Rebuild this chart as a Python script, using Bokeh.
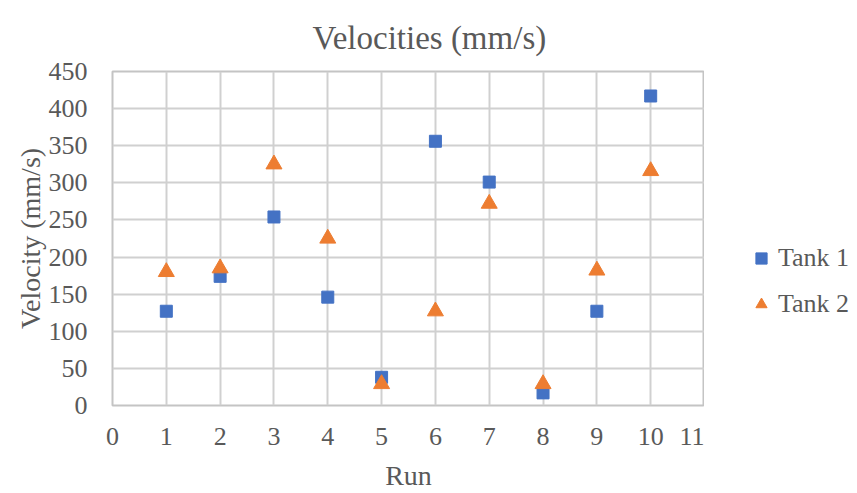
from bokeh.plotting import figure
from bokeh.layouts import row
from bokeh.models import FixedTicker, Legend, LegendItem, Range1d
from bokeh.embed import file_html
from bokeh.resources import INLINE

runs = [1, 2, 3, 4, 5, 6, 7, 8, 9, 10]
tank1 = [127, 174, 254, 146, 38, 356, 301, 17, 127, 417]
tank2 = [180, 185, 325, 225, 29, 127, 272, 29, 182, 316]
x_ticks = [0, 1, 2, 3, 4, 5, 6, 7, 8, 9, 10, 11]
y_ticks = [0, 50, 100, 150, 200, 250, 300, 350, 400, 450]
series_names = ["Tank 1", "Tank 2"]

FONT = "Liberation Serif"
GRAY = "#595959"
BLUE = "#4472C4"
ORANGE = "#ED7D31"

p = figure(width=704, height=493, output_backend="svg", toolbar_location=None,
           x_range=Range1d(0, 11), y_range=Range1d(0, 450),
           min_border_left=112, min_border_right=0,
           min_border_top=71, min_border_bottom=86)

p.title.text = "Velocities (mm/s)"
p.title.align = "left"
p.title.offset = 200
p.title.text_font = FONT
p.title.text_font_size = "33px"
p.title.text_font_style = "normal"
p.title.text_color = GRAY
p.title.standoff = 32

p.scatter(runs, tank1, marker="square", size=12, color=BLUE)
p.scatter(runs, tank2, marker="triangle", size=16, color=ORANGE)

xa = p.below[0]
ya = p.left[0]
for ax in (xa, ya):
    ax.axis_line_color = None
    ax.major_tick_line_color = None
    ax.minor_tick_line_color = None
    ax.major_label_text_font = FONT
    ax.major_label_text_font_size = "26px"
    ax.major_label_text_color = GRAY
    ax.axis_label_text_font = FONT
    ax.axis_label_text_font_size = "28px"
    ax.axis_label_text_font_style = "normal"
    ax.axis_label_text_color = GRAY

xa.ticker = FixedTicker(ticks=x_ticks)
ya.ticker = FixedTicker(ticks=y_ticks)
xa.axis_label = "Run"
ya.axis_label = "Velocity (mm/s)"
xa.major_label_standoff = 16
ya.major_label_standoff = 19
xa.axis_label_standoff = 12
ya.axis_label_standoff = 0

p.xgrid.ticker = FixedTicker(ticks=x_ticks)
p.ygrid.ticker = FixedTicker(ticks=y_ticks)
for g in (p.xgrid[0], p.ygrid[0]):
    g.grid_line_color = "#d0d0d0"
    g.grid_line_width = 2

p.outline_line_color = "#c4c4c4"
p.outline_line_width = 2
p.background_fill_color = "white"
p.border_fill_color = "white"

# legend panel to the right of the plot (series drawn off-range, only legend shows)
lf = figure(width=145, height=493, output_backend="svg", toolbar_location=None,
            x_axis_type=None, y_axis_type=None,
            x_range=Range1d(-3, -2), y_range=Range1d(0, 450),
            min_border=0)
lf.outline_line_color = None
lf.xgrid.visible = False
lf.ygrid.visible = False
lf.background_fill_color = "white"
lf.border_fill_color = "white"
r1 = lf.scatter(runs, tank1, marker="square", size=12, color=BLUE)
r2 = lf.scatter(runs, tank2, marker="triangle", size=16, color=ORANGE)

legend = Legend(items=[LegendItem(label=series_names[0], renderers=[r1]),
                       LegendItem(label=series_names[1], renderers=[r2])],
                location=(43, 86), orientation="vertical")
legend.border_line_color = None
legend.background_fill_alpha = 0
legend.padding = 0
legend.margin = 0
legend.label_text_font = FONT
legend.label_text_font_size = "26px"
legend.label_text_color = GRAY
legend.glyph_width = 28
legend.glyph_height = 30
legend.label_height = 30
legend.spacing = 16
legend.label_standoff = 3
lf.add_layout(legend, "center")

layout = row(p, lf, spacing=0)
open("out.html", "w").write(file_html(layout, INLINE))
